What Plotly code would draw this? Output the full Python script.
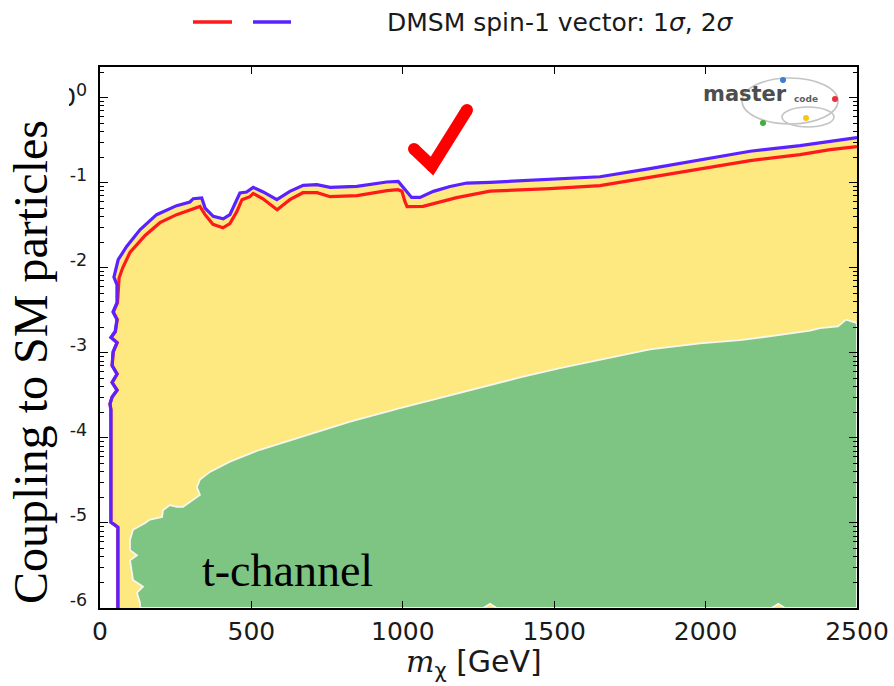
import numpy as np
import plotly.graph_objects as go

# ---- data: DM mass (GeV) and log10(coupling to SM particles) ----
# 2-sigma contour (blue)
blue_mass = [59, 59, 36, 36, 33, 40, 56, 40, 56, 40, 43, 56, 36, 50, 56, 43, 56, 56, 46,
             60, 88, 132, 187, 253, 297, 308, 336, 347, 374, 407, 429, 446, 462, 484, 506,
             539, 584, 627, 671, 716, 760, 848, 903, 947, 985, 1007, 1029, 1057, 1101,
             1156, 1211, 1288, 1486, 1651, 1816, 1982, 2147, 2312, 2411, 2500]
blue_logc = [-6.0, -5.05, -4.99, -3.67, -3.6, -3.52, -3.44, -3.35, -3.25, -3.15, -2.99,
             -2.88, -2.82, -2.75, -2.61, -2.52, -2.41, -2.2, -2.11,
             -1.906, -1.75, -1.553, -1.376, -1.27, -1.227, -1.188, -1.18, -1.298, -1.396,
             -1.424, -1.376, -1.239, -1.121, -1.109, -1.055, -1.109, -1.2, -1.102, -1.032,
             -1.024, -1.055, -1.044, -1.015, -0.992, -0.985, -1.074, -1.173, -1.173, -1.102,
             -1.044, -1.004, -0.996, -0.965, -0.93, -0.835, -0.73, -0.63, -0.565, -0.51, -0.47]

# 1-sigma contour (red)
red_mass = [59, 59, 36, 36, 33, 40, 57, 40, 57, 40, 44, 57, 37, 51, 57, 44, 58, 60, 63,
            75, 99, 149, 198, 253, 297, 330, 347, 373, 406, 429, 452, 469, 495, 506, 538,
            585, 627, 670, 717, 760, 849, 902, 948, 984, 997, 1007, 1014, 1067, 1178, 1288,
            1486, 1651, 1816, 1982, 2147, 2312, 2411, 2500]
red_logc = [-6.0, -5.05, -4.99, -3.67, -3.6, -3.52, -3.44, -3.35, -3.25, -3.15, -2.99,
            -2.88, -2.82, -2.75, -2.61, -2.52, -2.41, -2.25, -2.12,
            -2.0, -1.82, -1.62, -1.47, -1.376, -1.318, -1.28, -1.376, -1.49, -1.53, -1.48,
            -1.34, -1.2, -1.165, -1.126, -1.19, -1.318, -1.2, -1.118, -1.118, -1.165, -1.153,
            -1.118, -1.094, -1.082, -1.1, -1.22, -1.282, -1.279, -1.176, -1.1,
            -1.07, -1.035, -0.94, -0.835, -0.741, -0.67, -0.612, -0.576]

# t-channel region boundary (green), from the bottom edge up and across
tch_mass = [132, 132, 122, 142, 109, 106, 99, 122, 99, 99, 109, 149, 165, 205, 208, 231,
            254, 274, 297, 330, 320, 330, 363, 429, 528, 660, 826, 991, 1123, 1255, 1387,
            1519, 1651, 1816, 1982, 2114, 2246, 2345, 2378, 2437, 2464, 2500]
tch_logc = [-6.0, -5.94, -5.82, -5.75, -5.67, -5.59, -5.44, -5.38, -5.32, -5.2, -5.08,
            -5.0, -4.96, -4.93, -4.85, -4.79, -4.81, -4.81, -4.75, -4.67, -4.58, -4.49,
            -4.4, -4.28, -4.14, -3.99, -3.81, -3.65, -3.53, -3.41, -3.29, -3.18, -3.08,
            -2.96, -2.89, -2.85, -2.79, -2.74, -2.71, -2.69, -2.61, -2.65]
# small gaps along the bottom edge of the t-channel region
gap_mass = [2262, 2240, 2218, 1310, 1288, 1266]
gap_logc = [-6.0, -5.95, -6.0, -6.0, -5.95, -6.0]

x_ticks = [0, 500, 1000, 1500, 2000, 2500]
y_ticks_exp = [-6, -5, -4, -3, -2, -1, 0]

X_MIN, X_MAX = 0, 2500
LOG_MIN, LOG_MAX = -6.0, 0.36

YELLOW = "#fde97f"
GREEN = "#7ec482"
RED = "#ff1a1a"
BLUE = "#5a22ff"

def lin(v):
    return list(np.power(10.0, np.asarray(v, dtype=float)))

fig = go.Figure()

# allowed region (2 sigma) filled in yellow
yx = blue_mass + [X_MAX, X_MAX, blue_mass[0]]
yy = lin(blue_logc) + [10 ** blue_logc[-1], 10 ** LOG_MIN, 10 ** LOG_MIN]
fig.add_trace(go.Scatter(x=yx, y=yy, mode="lines", fill="toself", fillcolor=YELLOW,
                         line=dict(width=0), hoverinfo="skip", showlegend=False))

# t-channel region
gx = tch_mass + [X_MAX] + gap_mass + [tch_mass[0]]
gy = lin(tch_logc) + [10 ** LOG_MIN] + lin(gap_logc) + [10 ** LOG_MIN]
fig.add_trace(go.Scatter(x=gx, y=gy, mode="lines", fill="toself", fillcolor=GREEN,
                         line=dict(width=1.8, color="#f7f7ec"), hoverinfo="skip",
                         showlegend=False))

fig.add_trace(go.Scatter(x=red_mass, y=lin(red_logc), mode="lines",
                         line=dict(color=RED, width=3.2), hoverinfo="skip", showlegend=False))
fig.add_trace(go.Scatter(x=blue_mass, y=lin(blue_logc), mode="lines",
                         line=dict(color=BLUE, width=3.2), hoverinfo="skip", showlegend=False))

# ---- layout helpers (pixel -> paper) ----
L, R, T, B = 100, 37, 67, 78
W, H = 894, 686
PW, PH = W - L - R, H - T - B

def px(x):
    return (x - L) / PW

def py(y):
    return (H - B - y) / PH

shapes = []
annotations = []

# legend entries at the top
shapes.append(dict(type="line", xref="paper", yref="paper", x0=px(193), x1=px(232),
                   y0=py(22), y1=py(22), line=dict(color=RED, width=3.5)))
shapes.append(dict(type="line", xref="paper", yref="paper", x0=px(253), x1=px(291),
                   y0=py(22), y1=py(22), line=dict(color=BLUE, width=3.5)))
annotations.append(dict(
    xref="paper", yref="paper", x=px(385), y=py(22), xanchor="left", yanchor="middle",
    text="DMSM spin-1 vector: 1<i>σ</i>, 2<i>σ</i>", showarrow=False,
    font=dict(family="DejaVu Sans", size=25, color="#1a1a1a")))

# white box behind the y-axis title
shapes.append(dict(type="rect", xref="paper", yref="paper", x0=px(0), x1=px(69),
                   y0=py(620), y1=py(70), fillcolor="white", line=dict(width=0),
                   layer="above"))
annotations.append(dict(
    xref="paper", yref="paper", x=px(30), y=py(362), xanchor="center", yanchor="middle",
    text="Coupling to SM particles", textangle=-90, showarrow=False,
    font=dict(family="Liberation Serif", size=48, color="black")))

# x-axis title
annotations.append(dict(
    xref="paper", yref="paper", x=px(474), y=py(663), xanchor="center", yanchor="middle",
    text="<span style=\"font-family:DejaVu Serif\"><i>m</i></span><sub>χ</sub> [GeV]",
    showarrow=False, font=dict(family="DejaVu Sans", size=30, color="#1a1a1a")))

# region label
annotations.append(dict(
    xref="paper", yref="paper", x=px(287), y=py(570), xanchor="center", yanchor="middle",
    text="t-channel", showarrow=False,
    font=dict(family="Liberation Serif", size=46, color="black")))

# check mark
ck = [(414, 149), (432, 166), (467, 110)]
path = "M {} {} L {} {} L {} {}".format(px(ck[0][0]), py(ck[0][1]), px(ck[1][0]),
                                        py(ck[1][1]), px(ck[2][0]), py(ck[2][1]))
shapes.append(dict(type="path", xref="paper", yref="paper", path=path,
                   line=dict(color="#ff0000", width=12), layer="above"))
for cx, cy in ck:
    r = 6
    shapes.append(dict(type="circle", xref="paper", yref="paper",
                       x0=px(cx - r), x1=px(cx + r), y0=py(cy + r), y1=py(cy - r),
                       fillcolor="#ff0000", line=dict(width=0), layer="above"))

# MasterCode logo
shapes.append(dict(type="circle", xref="paper", yref="paper", x0=px(742), x1=px(838),
                   y0=py(124), y1=py(78), line=dict(color="#c4c4c4", width=1.6),
                   layer="above"))
shapes.append(dict(type="circle", xref="paper", yref="paper", x0=px(782), x1=px(834),
                   y0=py(127), y1=py(107), line=dict(color="#c4c4c4", width=1.6),
                   layer="above"))
for (cx, cy, col) in [(783, 80, "#3a7fd0"), (835, 99, "#e8303a"),
                      (763, 123, "#3fae3f"), (806, 118, "#f2c81a")]:
    shapes.append(dict(type="circle", xref="paper", yref="paper",
                       x0=px(cx - 3), x1=px(cx + 3), y0=py(cy + 3), y1=py(cy - 3),
                       fillcolor=col, line=dict(width=0), layer="above"))
annotations.append(dict(
    xref="paper", yref="paper", x=px(745), y=py(94), xanchor="center", yanchor="middle",
    text="<b>master</b>", showarrow=False,
    font=dict(family="DejaVu Sans", size=21, color="#4d4d4d")))
annotations.append(dict(
    xref="paper", yref="paper", x=px(806), y=py(99), xanchor="center", yanchor="middle",
    text="<b>code</b>", showarrow=False,
    font=dict(family="DejaVu Sans", size=9, color="#606060")))

fig.update_layout(
    width=W, height=H,
    margin=dict(l=L, r=R, t=T, b=B, pad=0, autoexpand=False),
    paper_bgcolor="white", plot_bgcolor="white",
    shapes=shapes, annotations=annotations,
    showlegend=False,
    font=dict(family="DejaVu Sans", color="#1a1a1a"),
)
fig.update_xaxes(
    range=[X_MIN, X_MAX], tickvals=x_ticks, ticktext=[str(v) for v in x_ticks],
    ticks="inside", ticklen=7, tickwidth=1.3, tickcolor="black", automargin=False,
    showline=True, linecolor="black", linewidth=1.5, mirror="allticks",
    showgrid=False, zeroline=False, tickfont=dict(size=25, color="#1a1a1a"),
)
fig.update_yaxes(
    type="log", range=[LOG_MIN, LOG_MAX],
    tickvals=[10.0 ** e for e in y_ticks_exp],
    ticktext=["10<sup>{}</sup>".format(e) for e in y_ticks_exp],
    ticks="inside", ticklen=8, tickwidth=1.3, tickcolor="black", ticklabelstandoff=6,
    minor=dict(ticks="inside", ticklen=4, tickcolor="black", tickwidth=1,
               tickvals=[m * 10.0 ** e for e in range(-6, 1) for m in range(2, 10)]),
    showline=True, linecolor="black", linewidth=1.5, mirror="allticks", automargin=False,
    showgrid=False, zeroline=False, tickfont=dict(size=25, color="#1a1a1a"),
)

fig.write_html("out.html")
